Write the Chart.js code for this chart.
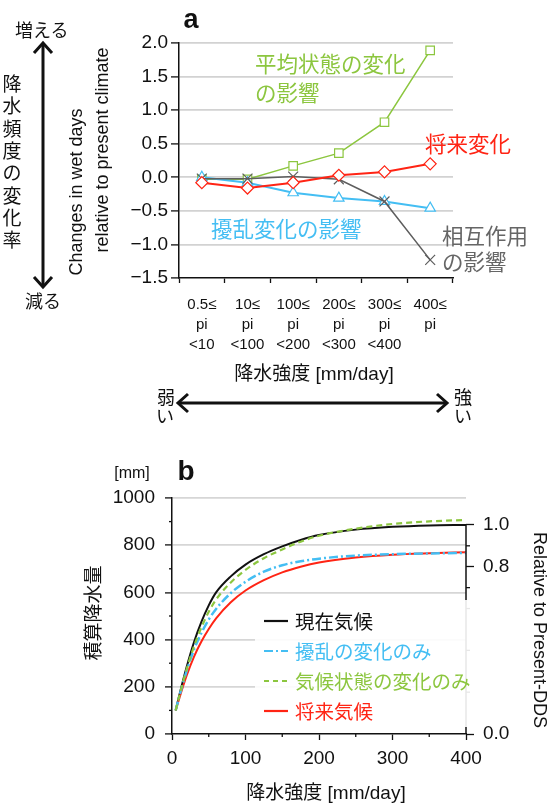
<!DOCTYPE html>
<html>
<head>
<meta charset="utf-8">
<script src="https://cdn.jsdelivr.net/npm/chart.js@4.4.1/dist/chart.umd.min.js"></script>
<style>
html, body { margin: 0; padding: 0; background: #fff; }
body { width: 550px; height: 809px; position: relative; overflow: hidden;
       font-family: "Liberation Sans", Arial, "Noto Sans CJK JP", sans-serif; color: #111; }
.t { position: absolute; white-space: nowrap; line-height: 1; z-index: 3; }
canvas { position: absolute; left: 0; }
#chartA { top: 0; }
#chartB { top: 440px; }
#legendB { position: absolute; left: 255px; top: 600px; width: 224px; height: 127px;
           background: rgba(255,255,255,0.9); z-index: 2; }
#arrows { position: absolute; left: 0; top: 0; z-index: 3; }
</style>
</head>
<body>
<canvas id="chartA" width="550" height="360"></canvas>
<canvas id="chartB" width="550" height="369"></canvas>
<div id="legendB"></div>
<svg id="arrows" width="550" height="809">
  <g stroke="#111" stroke-width="3" fill="none">
    <line x1="43" y1="44" x2="43" y2="286"/>
    <polyline points="34,53 43,43 52,53"/>
    <polyline points="34,277 43,287 52,277"/>
    <line x1="179" y1="403" x2="446" y2="403"/>
    <polyline points="188,394 178,403 188,412"/>
    <polyline points="437,394 447,403 437,412"/>
  </g>
</svg>
<script>
// ---- panel a: change in wet days by precipitation intensity bin ----
const binLabels = [
    ['0.5≤', 'pi', '<10'],
    ['10≤', 'pi', '<100'],
    ['100≤', 'pi', '<200'],
    ['200≤', 'pi', '<300'],
    ['300≤', 'pi', '<400'],
    ['400≤', 'pi']
];
const meanStateEffect = [-0.03, -0.03, 0.17, 0.36, 0.82, 1.89];
const futureChange = [-0.08, -0.16, -0.08, 0.03, 0.08, 0.20];
const disturbanceEffect = [0.00, -0.08, -0.23, -0.31, -0.36, -0.46];
const interactionEffect = [-0.02, -0.02, 0.01, -0.03, -0.36, -1.23];

// ---- panel b: cumulative precipitation vs intensity ----
const intensity = [5, 10, 20, 30, 40, 50, 60, 80, 100, 125, 150, 175, 200, 250, 300, 350, 400];
const presentClimate = [100, 165, 285, 390, 475, 545, 600, 668, 718, 762, 795, 822, 843, 866, 878, 884, 886];
const disturbanceOnly = [100, 160, 268, 358, 428, 485, 530, 597, 645, 688, 715, 732, 743, 756, 762, 765, 767];
const climateStateOnly = [100, 162, 275, 372, 452, 518, 570, 642, 695, 745, 782, 815, 840, 870, 890, 901, 907];
const futureClimate = [100, 152, 248, 328, 392, 445, 490, 558, 608, 652, 685, 709, 727, 748, 760, 766, 770];
const relTickValues = [0, 0.8, 1.0];
const relMinorValues = [0.2, 0.4, 0.6, 0.7, 0.9];

const GREEN = '#8cc63f', RED = '#ff2414', BLUE = '#44bef3', GRAY = '#5e5e5e';
const JP = '"Noto Sans CJK JP", sans-serif';

Chart.defaults.font.family = '"Liberation Sans", Arial, sans-serif';
Chart.defaults.color = '#111';

// short minor ticks and partial axis line, drawn through the scales
const minorTicks = {
    id: 'minorTicks',
    afterDraw(chart, args, opts) {
        const ctx = chart.ctx;
        ctx.save();
        ctx.strokeStyle = '#111';
        ctx.lineWidth = 1.3;
        (opts.items || []).forEach(item => {
            const sc = chart.scales[item.scale];
            item.values.forEach(v => {
                const p = sc.getPixelForValue(v);
                ctx.beginPath();
                if (sc.isHorizontal()) {
                    ctx.moveTo(p, sc.top); ctx.lineTo(p, sc.top + item.len);
                } else if (sc.position === 'left') {
                    ctx.moveTo(sc.right, p); ctx.lineTo(sc.right - item.len, p);
                } else {
                    ctx.moveTo(sc.left, p); ctx.lineTo(sc.left + item.len, p);
                }
                ctx.stroke();
            });
            if (item.spine) {
                ctx.lineWidth = 1.5;
                ctx.beginPath();
                ctx.moveTo(sc.left, sc.getPixelForValue(item.spine[0]));
                ctx.lineTo(sc.left, sc.getPixelForValue(item.spine[1]));
                ctx.stroke();
            }
        });
        ctx.restore();
    }
};

function lineSet(label, data, color, style, radius, width, order) {
    return {
        label: label, data: data, borderColor: color, borderWidth: width,
        pointStyle: style, pointRadius: radius, pointBorderColor: color,
        pointBackgroundColor: '#fff', pointBorderWidth: 1.2, tension: 0, order: order
    };
}

new Chart(document.getElementById('chartA'), {
    type: 'line',
    data: {
        labels: binLabels,
        datasets: [
            lineSet('平均状態の変化の影響', meanStateEffect, GREEN, 'rect', 6, 1.5, 4),
            lineSet('擾乱変化の影響', disturbanceEffect, BLUE, 'triangle', 6, 2, 3),
            lineSet('相互作用の影響', interactionEffect, GRAY, 'crossRot', 7, 1.5, 2),
            lineSet('将来変化', futureChange, RED, 'rectRot', 6, 2, 1)
        ]
    },
    options: {
        responsive: false,
        animation: false,
        layout: { padding: { left: 0, top: 43, right: 97, bottom: 0 } },
        plugins: { legend: { display: false }, tooltip: { enabled: false } },
        scales: {
            x: {
                offset: true,
                grid: { offset: true, drawOnChartArea: false, tickLength: 5, tickColor: '#111', tickWidth: 1.3 },
                border: { color: '#111', width: 1.5 },
                ticks: { autoSkip: false, maxRotation: 0, padding: 12, color: '#111',
                         font: { size: 15, lineHeight: '20px' } },
                afterFit: s => { s.height = 82; }
            },
            y: {
                min: -1.5, max: 2.0,
                grid: { color: c => (c.tick && c.tick.value === -1.5) ? 'rgba(0,0,0,0)' : '#d2d2d2',
                        lineWidth: 1.8, tickLength: 8, tickColor: '#111', tickWidth: 1.3 },
                border: { color: '#111', width: 1.5 },
                ticks: { stepSize: 0.5, padding: 3, color: '#111', font: { size: 19 },
                         callback: v => (v < 0 ? '\u2212' : '') + Math.abs(v).toFixed(1) },
                afterFit: s => { s.width = 179; }
            }
        }
    }
});

const pts = arr => intensity.map((x, i) => ({ x: x, y: arr[i] }));
const curve = (label, arr, color, dash, width, order) => ({
    label: label, data: pts(arr), borderColor: color, borderWidth: width, borderDash: dash,
    pointRadius: 0, cubicInterpolationMode: 'monotone', order: order
});

new Chart(document.getElementById('chartB'), {
    type: 'line',
    data: {
        datasets: [
            curve('現在気候', presentClimate, '#111', [], 2, 4),
            curve('将来気候', futureClimate, RED, [], 2, 3),
            curve('擾乱の変化のみ', disturbanceOnly, BLUE, [9, 3, 2, 3], 2.5, 2),
            curve('気候状態の変化のみ', climateStateOnly, GREEN, [6, 4], 2.2, 1)
        ]
    },
    options: {
        responsive: false,
        animation: false,
        layout: { padding: { left: 0, top: 58, right: 0, bottom: 0 } },
        plugins: {
            legend: { display: false }, tooltip: { enabled: false },
            minorTicks: { items: [
                { scale: 'x', values: [50, 150, 250, 350], len: 3 },
                { scale: 'y', values: [100, 300, 500, 700, 900], len: 3 },
                { scale: 'y2', values: relMinorValues, len: 4, spine: [0, 1] }
            ] }
        },
        scales: {
            x: {
                type: 'linear', min: 0, max: 400,
                grid: { drawOnChartArea: false, tickLength: 6, tickColor: '#111', tickWidth: 1.3 },
                border: { color: '#111', width: 1.5 },
                ticks: { stepSize: 100, padding: 7, color: '#111', font: { size: 19 },
                         callback: v => String(v) },
                afterFit: s => { s.height = 75; }
            },
            y: {
                min: 0, max: 1000,
                grid: { color: c => (c.tick && c.tick.value === 0) ? 'rgba(0,0,0,0)' : '#d6d6d6',
                        lineWidth: 1.8, tickLength: 7, tickColor: '#111', tickWidth: 1.3 },
                border: { color: '#111', width: 1.5 },
                ticks: { stepSize: 200, padding: 10, color: '#111', font: { size: 19 },
                         callback: v => String(v) },
                afterFit: s => { s.width = 172; }
            },
            y2: {
                position: 'right', min: 0,
                max: 1000 / presentClimate[presentClimate.length - 1],
                afterBuildTicks: s => { s.ticks = relTickValues.map(v => ({ value: v })); },
                grid: { drawOnChartArea: false, tickLength: 8, tickColor: '#111', tickWidth: 1.3 },
                border: { display: false },
                ticks: { padding: 9, color: '#111', font: { size: 19 }, callback: v => v.toFixed(1) },
                afterFit: s => { s.width = 84; }
            }
        }
    },
    plugins: [minorTicks]
});

// ---- text placed around the charts ----
function addText(txt, x, y, o) {
    o = o || {};
    const d = document.createElement('div');
    d.className = 't';
    d.textContent = txt;
    d.style.left = x + 'px';
    d.style.top = y + 'px';
    d.style.fontSize = (o.size || 18) + 'px';
    if (o.color) d.style.color = o.color;
    if (o.jp) d.style.fontFamily = JP;
    if (o.bold) d.style.fontWeight = 'bold';
    const ax = o.anchor === 'l' ? '0' : '-50%';
    d.style.transform = 'translate(' + ax + ',-50%)' + (o.rot ? ' rotate(' + o.rot + 'deg)' : '');
    (o.parent || document.body).appendChild(d);
    return d;
}

// panel a
addText('a', 191, 19, { size: 27, bold: true });
addText('増える', 15, 29, { size: 18, jp: true, anchor: 'l' });
addText('減る', 25, 300, { size: 18, jp: true, anchor: 'l' });
'降水頻度の変化率'.split('').forEach((ch, i) => {
    addText(ch, 12, 82 + i * 22.3, { size: 19, jp: true });
});
addText('Changes in wet days', 76, 192, { size: 18, rot: -90 });
addText('relative to present climate', 102, 150, { size: 18, rot: -90 });
addText('平均状態の変化', 255, 63, { size: 21.5, jp: true, color: GREEN, anchor: 'l' });
addText('の影響', 255, 92, { size: 21.5, jp: true, color: GREEN, anchor: 'l' });
addText('将来変化', 425, 143, { size: 21.5, jp: true, color: RED, anchor: 'l' });
addText('擾乱変化の影響', 211, 228, { size: 21.5, jp: true, color: BLUE, anchor: 'l' });
addText('相互作用', 442, 235, { size: 21.5, jp: true, color: '#666', anchor: 'l' });
addText('の影響', 442, 261, { size: 21.5, jp: true, color: '#666', anchor: 'l' });
addText('降水強度 [mm/day]', 314, 373, { size: 19 });
addText('弱', 166, 396, { size: 18, jp: true });
addText('い', 165, 415, { size: 18, jp: true });
addText('強', 463, 396, { size: 18, jp: true });
addText('い', 463, 415, { size: 18, jp: true });

// panel b
addText('[mm]', 132, 473, { size: 16 });
addText('b', 186, 471, { size: 28, bold: true });
addText('積算降水量', 91, 613, { size: 19, jp: true, rot: -90 });
addText('Relative to Present-DDS', 540, 630, { size: 18, rot: 90 });
addText('降水強度 [mm/day]', 326, 792, { size: 19 });

// legend of panel b
const legendItems = [
    { text: '現在気候', color: '#111', dash: '' },
    { text: '擾乱の変化のみ', color: BLUE, dash: '9 3 2 3' },
    { text: '気候状態の変化のみ', color: GREEN, dash: '5 4' },
    { text: '将来気候', color: RED, dash: '' }
];
const legend = document.getElementById('legendB');
legendItems.forEach((it, i) => {
    const cy = 21 + i * 30;
    const svg = document.createElementNS('http://www.w3.org/2000/svg', 'svg');
    svg.setAttribute('width', '30');
    svg.setAttribute('height', '6');
    svg.style.position = 'absolute';
    svg.style.left = '9px';
    svg.style.top = (cy - 3) + 'px';
    const ln = document.createElementNS('http://www.w3.org/2000/svg', 'line');
    ln.setAttribute('x1', '0'); ln.setAttribute('x2', '24');
    ln.setAttribute('y1', '3'); ln.setAttribute('y2', '3');
    ln.setAttribute('stroke', it.color); ln.setAttribute('stroke-width', '2.2');
    if (it.dash) ln.setAttribute('stroke-dasharray', it.dash);
    svg.appendChild(ln);
    legend.appendChild(svg);
    addText(it.text, 40, cy, { size: 19.5, jp: true, color: it.color, anchor: 'l', parent: legend });
});
</script>
</body>
</html>
